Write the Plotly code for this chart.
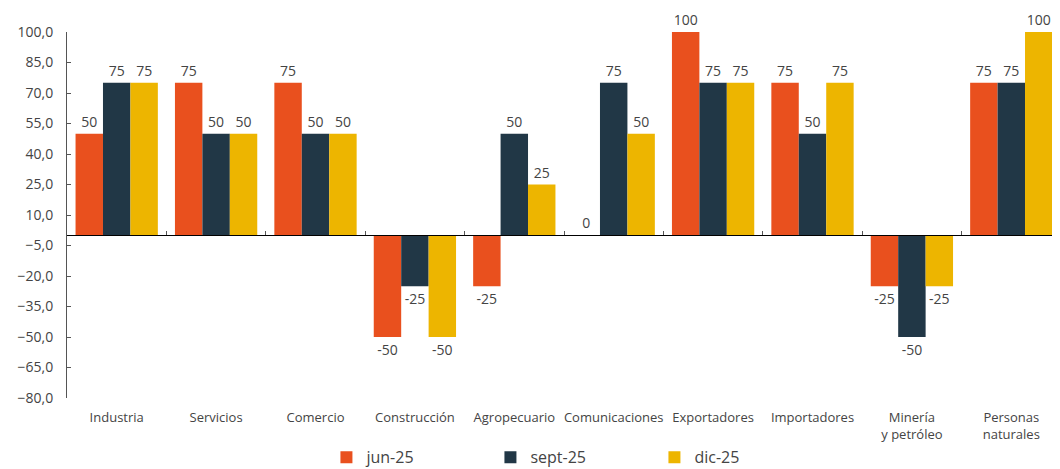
import plotly.graph_objects as go

categories = ["Industria", "Servicios", "Comercio", "Construcción", "Agropecuario",
              "Comunicaciones", "Exportadores", "Importadores",
              "Minería<br>y petróleo", "Personas<br>naturales"]
jun_25 = [50, 75, 75, -50, -25, 0, 100, 75, -25, 75]
sept_25 = [75, 50, 50, -25, 50, 75, 75, 50, -50, 75]
dic_25 = [75, 50, 50, -50, 25, 50, 75, 75, -25, 100]

series = [("jun-25", jun_25, "#E9501E"),
          ("sept-25", sept_25, "#213746"),
          ("dic-25", dic_25, "#EDB500")]

FONT = "Open Sans"
fig = go.Figure()
for name, vals, color in series:
    fig.add_trace(go.Bar(
        x=categories, y=vals, name=name,
        marker=dict(color=color, line=dict(width=0)),
        text=[str(v) for v in vals], textposition="outside",
        textfont=dict(family=FONT, size=14, color="#444"),
        constraintext="none", cliponaxis=False,
    ))

# helper axis for the zero line with the category separator ticks
fig.add_trace(go.Scatter(x=[None], y=[None], xaxis="x2", showlegend=False,
                         hoverinfo="skip"))

fig.update_layout(
    width=1060, height=469,
    margin=dict(l=59, r=7, t=24, b=79, autoexpand=False),
    plot_bgcolor="white", paper_bgcolor="white",
    barmode="group", bargap=0.172, bargroupgap=0,
    separators=", ",
    font=dict(family=FONT, color="#444"),
    xaxis=dict(showline=False, ticks="", showgrid=False, automargin=False,
               tickfont=dict(size=13, color="#444"), ticklabelstandoff=10),
    xaxis2=dict(overlaying="x", anchor="free", position=80 / 180,
                range=[-0.5, 9.5], showgrid=False, zeroline=False,
                showline=True, linecolor="#000", linewidth=1,
                tickvals=[0.5 + i for i in range(9)], ticks="inside",
                ticklen=4, tickcolor="#555", showticklabels=False),
    yaxis=dict(range=[-80, 100], tickvals=list(range(-80, 101, 15)),
               tickformat=".1f", showgrid=False, zeroline=False,
               showline=True, linecolor="#555", linewidth=1, automargin=False,
               ticks="inside", ticklen=4, tickcolor="#555",
               tickfont=dict(size=14, color="#444"), ticklabelstandoff=10),
    legend=dict(orientation="h", x=0.261, xanchor="left",
                yref="container", y=0.042, yanchor="middle",
                entrywidth=119, font=dict(size=16, color="#444")),
)

fig.write_html("out.html")
